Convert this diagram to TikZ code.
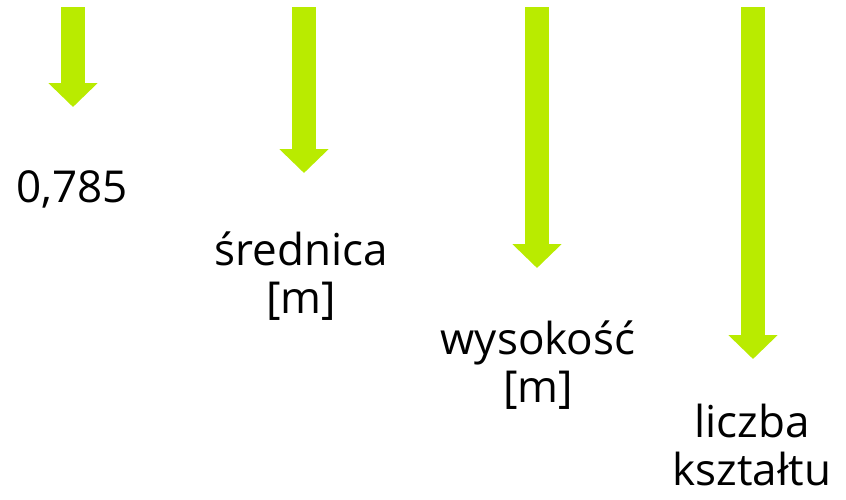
\documentclass[tikz,border=0pt]{standalone}
\usepackage{fontspec}
\setmainfont{Open Sans}
\usetikzlibrary{arrows.meta}
\definecolor{lime}{HTML}{B9EB00}

\begin{document}
\begin{tikzpicture}[x=1pt,y=-1pt,
  lbl/.style={align=center,inner sep=0pt,anchor=base,font=\fontsize{44}{48}\selectfont},
  downarr/.style={-{Triangle[width=48pt,length=24pt]},line width=24pt,color=lime}]
  \useasboundingbox (0,0) rectangle (846,499);
  % start and end points of the arrows
  \coordinate (s1) at (73,7);   \coordinate (e1) at (73,107);
  \coordinate (s2) at (304,7);  \coordinate (e2) at (304,173);
  \coordinate (s3) at (537,7);  \coordinate (e3) at (537,268);
  \coordinate (s4) at (753,7);  \coordinate (e4) at (753,359);
  \draw[downarr] (s1) -- (e1);
  \draw[downarr] (s2) -- (e2);
  \draw[downarr] (s3) -- (e3);
  \draw[downarr] (s4) -- (e4);
  % labels, placed on the baseline of their last line
  \node[lbl] (pi4) at (72,202) {0,785};
  \node[lbl] (d) at (301,313) {średnica\\{[m]}};
  \node[lbl] (h) at (538,402) {wysokość\\{[m]}};
  \node[lbl] (k) at (752,485) {liczba\\kształtu};
\end{tikzpicture}
\end{document}
